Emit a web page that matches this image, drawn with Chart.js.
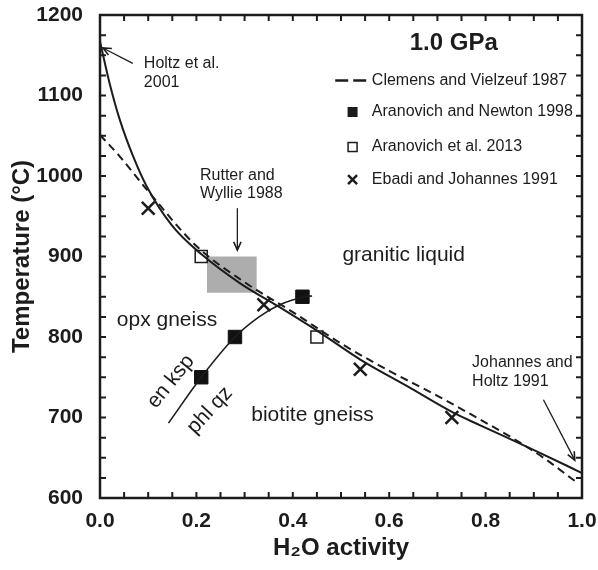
<!DOCTYPE html>
<html><head><meta charset="utf-8">
<script src="https://cdn.jsdelivr.net/npm/chart.js@4.4.1/dist/chart.umd.min.js"></script>
<style>html,body{margin:0;padding:0;background:#fff}#wrap{width:598px;height:570px;position:relative}canvas{display:block}</style>
</head><body><div id="wrap"><canvas id="c" width="598" height="570" style="width:598px;height:570px"></canvas></div>
<script>
const FONT = '"Liberation Sans", Arial, Helvetica, sans-serif';
const INK = '#1c1c1c';

// ---- data (x = H2O activity, y = temperature °C) ----
const holtzCurve = [[0,1167],[0.02,1115],[0.041,1070],[0.069,1024],[0.097,987],[0.15,938],[0.21,903],[0.29,867],[0.37,838],[0.45,808],[0.54,772],[0.64,738],[0.733,706],[0.79,690],[0.906,658],[1.0,631]];
const clemensCurve = [[0,1051],[0.04,1025],[0.1,981],[0.2,913],[0.3,868],[0.4,831],[0.5,792],[0.6,758],[0.7,727],[0.79,697],[0.86,673],[0.92,650],[0.99,619]];
const enKspBoundary = [[0.142,693],[0.21,750],[0.28,800],[0.33,825],[0.373,840],[0.425,850],[0.44,851]];
const aranovichNewton1998 = [[0.21,750],[0.28,800],[0.42,850]];
const aranovich2013 = [[0.21,900],[0.45,800]];
const ebadiJohannes1991 = [[0.10,960],[0.34,840],[0.54,760],[0.73,700]];
const rutterWyllieX = [0.222,0.325];
const rutterWyllieT = [855,900];
const xTickValues = [0,0.2,0.4,0.6,0.8,1.0];
const yTickValues = [600,700,800,900,1000,1100,1200];
const legendLabels = ['Clemens and Vielzeuf 1987','Aranovich and Newton 1998','Aranovich et al. 2013','Ebadi and Johannes 1991'];

const pts = a => a.map(([x,y]) => ({x, y}));

// annotation layout (data coordinates)
const textNotes = [
  {t:'1.0 GPa', x:0.734, y:1165, size:24, bold:true, align:'center'},
  {t:'granitic liquid', x:0.63, y:902, size:21, align:'center'},
  {t:'opx gneiss', x:0.139, y:821, size:21, align:'center'},
  {t:'biotite gneiss', x:0.441, y:703, size:21, align:'center'},
  {t:'Holtz et al.', x:0.091, y:1140, size:16, align:'left'},
  {t:'2001', x:0.091, y:1115.5, size:16, align:'left'},
  {t:'Rutter and', x:0.2075, y:1001, size:16, align:'left'},
  {t:'Wyllie 1988', x:0.2075, y:977.6, size:16, align:'left'},
  {t:'Johannes and', x:0.772, y:768, size:16, align:'left'},
  {t:'Holtz 1991', x:0.772, y:744, size:16, align:'left'},
  {t:'en ksp', x:0.147, y:744.5, size:21, align:'center', rot:-51},
  {t:'phl qz', x:0.228, y:709, size:21, align:'center', rot:-47}
];
const arrowNotes = [
  {from:[0.068,1140], to:[0.006,1159]},
  {from:[0.285,960], to:[0.285,908]},
  {from:[0.92,722], to:[0.985,647]}
];
const legendRowsT = [1118.6,1079.5,1036,995.6];
const legendSymbolX = 0.524, legendTextX = 0.564, legendDash = [0.488,0.554];

const decor = {
  id:'decor',
  beforeDatasetsDraw(chart){
    const {ctx, scales:{x,y}} = chart;
    ctx.save();
    ctx.fillStyle = '#adadad';
    const x0 = x.getPixelForValue(rutterWyllieX[0]), x1 = x.getPixelForValue(rutterWyllieX[1]);
    const y0 = y.getPixelForValue(rutterWyllieT[1]), y1 = y.getPixelForValue(rutterWyllieT[0]);
    ctx.fillRect(x0, y0, x1-x0, y1-y0);
    ctx.restore();
  },
  afterDraw(chart){
    const {ctx, chartArea:a, scales:{x,y}} = chart;
    ctx.save();
    ctx.strokeStyle = INK; ctx.lineWidth = 2.5;
    ctx.strokeRect(a.left, a.top, a.right-a.left, a.bottom-a.top);
    ctx.lineWidth = 2;
    ctx.beginPath();
    for (let i=1;i<20;i++){
      const px = x.getPixelForValue(i*0.05);
      ctx.moveTo(px, a.bottom); ctx.lineTo(px, a.bottom-6);
      ctx.moveTo(px, a.top); ctx.lineTo(px, a.top+6);
    }
    for (let i=1;i<24;i++){
      const py = y.getPixelForValue(600+i*25);
      ctx.moveTo(a.left, py); ctx.lineTo(a.left+6, py);
      ctx.moveTo(a.right, py); ctx.lineTo(a.right-6, py);
    }
    ctx.stroke();
    ctx.fillStyle = INK;
    textNotes.forEach(n=>{
      ctx.save();
      ctx.font = (n.bold?'bold ':'') + n.size + 'px ' + FONT;
      ctx.textAlign = n.align; ctx.textBaseline = 'middle';
      ctx.translate(x.getPixelForValue(n.x), y.getPixelForValue(n.y));
      if (n.rot) ctx.rotate(n.rot*Math.PI/180);
      ctx.fillText(n.t, 0, 0);
      ctx.restore();
    });
    ctx.strokeStyle = INK; ctx.lineWidth = 1.3;
    arrowNotes.forEach(ar=>{
      const fx = x.getPixelForValue(ar.from[0]), fy = y.getPixelForValue(ar.from[1]);
      const tx = x.getPixelForValue(ar.to[0]), ty = y.getPixelForValue(ar.to[1]);
      const ang = Math.atan2(ty-fy, tx-fx);
      ctx.beginPath(); ctx.moveTo(fx,fy); ctx.lineTo(tx,ty); ctx.stroke();
      ctx.beginPath();
      ctx.moveTo(tx-9*Math.cos(ang-0.42), ty-9*Math.sin(ang-0.42));
      ctx.lineTo(tx,ty);
      ctx.lineTo(tx-9*Math.cos(ang+0.42), ty-9*Math.sin(ang+0.42));
      ctx.lineWidth = 1.6; ctx.stroke(); ctx.lineWidth = 1.3;
    });
    ctx.font = '16px ' + FONT; ctx.textAlign = 'left'; ctx.textBaseline = 'middle';
    const sx = x.getPixelForValue(legendSymbolX), tx = x.getPixelForValue(legendTextX);
    legendLabels.forEach((lab,i)=>{
      const py = y.getPixelForValue(legendRowsT[i]);
      ctx.fillText(lab, tx, py);
      ctx.lineWidth = 2;
      if (i===0){
        ctx.setLineDash([13,5]); ctx.lineWidth = 2.5;
        ctx.beginPath(); ctx.moveTo(x.getPixelForValue(legendDash[0]), py); ctx.lineTo(x.getPixelForValue(legendDash[1]), py); ctx.stroke();
        ctx.setLineDash([]);
      } else if (i===1){
        ctx.fillRect(sx-5, py-5, 10, 10);
      } else if (i===2){
        ctx.lineWidth = 1.5; ctx.strokeRect(sx-4.5, py-4.5, 9, 9);
      } else {
        ctx.lineWidth = 2.5; ctx.beginPath();
        ctx.moveTo(sx-4.5,py-4.5); ctx.lineTo(sx+4.5,py+4.5);
        ctx.moveTo(sx+4.5,py-4.5); ctx.lineTo(sx-4.5,py+4.5); ctx.stroke();
      }
    });
    ctx.restore();
  }
};

Chart.defaults.font.family = FONT;
Chart.defaults.color = INK;

new Chart(document.getElementById('c'), {
  type:'scatter',
  data:{ datasets:[
    {type:'line', label:'Holtz et al. 2001', data:pts(holtzCurve), borderColor:INK, borderWidth:2, pointRadius:0, cubicInterpolationMode:'monotone', fill:false},
    {type:'line', label:legendLabels[0], data:pts(clemensCurve), borderColor:INK, borderWidth:2, borderDash:[8,5], pointRadius:0, cubicInterpolationMode:'monotone', fill:false},
    {type:'line', label:'en ksp = phl qz', data:pts(enKspBoundary), borderColor:INK, borderWidth:1.6, pointRadius:0, cubicInterpolationMode:'monotone', fill:false},
    {label:legendLabels[1], data:pts(aranovichNewton1998), pointStyle:'rect', pointRadius:9.5, backgroundColor:'#111', borderColor:'#111', borderWidth:1, showLine:false},
    {label:legendLabels[2], data:pts(aranovich2013), pointStyle:'rect', pointRadius:8.5, backgroundColor:'#fff', borderColor:INK, borderWidth:1.5, showLine:false},
    {label:legendLabels[3], data:pts(ebadiJohannes1991), pointStyle:'crossRot', pointRadius:9, borderColor:INK, borderWidth:2.6, showLine:false}
  ]},
  options:{
    responsive:false, maintainAspectRatio:false, animation:false, devicePixelRatio:1,
    layout:{padding:{top:15, right:16, left:0, bottom:0}},
    plugins:{legend:{display:false}, tooltip:{enabled:false}},
    scales:{
      x:{type:'linear', min:0, max:1,
        afterBuildTicks(s){ s.ticks = xTickValues.map(v=>({value:v})); },
        ticks:{font:{size:21, weight:'bold'}, color:INK, padding:11, maxRotation:0, autoSkip:false, callback:v=>Number(v).toFixed(1)},
        grid:{display:false, drawTicks:false}, border:{display:false},
        title:{display:true, text:'H₂O activity', color:INK, font:{size:24, weight:'bold'}, padding:{top:0, bottom:7}},
        afterFit(s){ s.height = 72; s.paddingLeft = 0; s.paddingRight = 0; }
      },
      y:{type:'linear', min:600, max:1200,
        afterBuildTicks(s){ s.ticks = yTickValues.map(v=>({value:v})); },
        ticks:{font:{size:21, weight:'bold'}, color:INK, padding:17, autoSkip:false, callback:v=>String(v)},
        grid:{display:false, drawTicks:false}, border:{display:false},
        title:{display:true, text:'Temperature (°C)', color:INK, font:{size:24, weight:'bold'}, padding:{top:8, bottom:0}},
        afterFit(s){ s.width = 100; s.paddingTop = 0; s.paddingBottom = 0; }
      }
    }
  },
  plugins:[decor]
});
</script></body></html>
